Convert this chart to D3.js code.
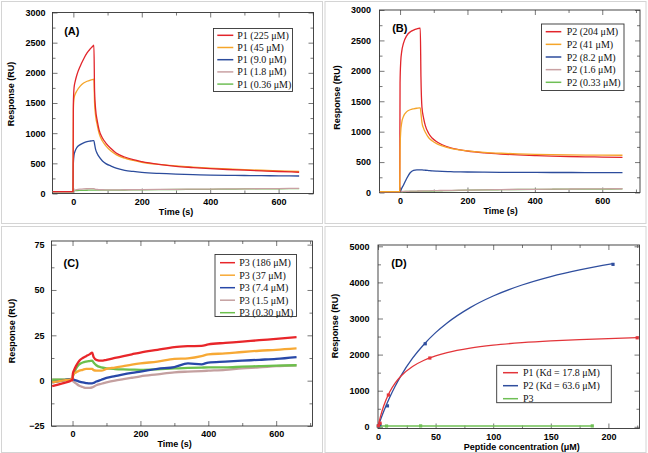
<!DOCTYPE html>
<html><head><meta charset="utf-8">
<script src="https://cdn.jsdelivr.net/npm/d3@7"></script>
<style>
html,body{margin:0;padding:0;background:#fff;}
text{font-family:"Liberation Sans",Arial,sans-serif;}
.tick text{font-family:"Liberation Sans",Arial,sans-serif;font-weight:bold;font-size:9px;fill:#000;}
.tick line{stroke:#555;stroke-width:0.8;}
.leg{font-family:"Liberation Serif","Times New Roman",serif;font-size:10px;fill:#111;}
.ttl{font-weight:bold;font-size:9px;fill:#000;}
.plab{font-weight:bold;font-size:11px;fill:#000;}
</style>
</head><body>
<svg id="c" width="648" height="453"></svg>
<script>
// ---------- DATA ----------
// Panel A (P1 sensorgrams)
const timeA = [-60,-1,0,2,5,10,20,30,40,50,58,60,62,65,70,75,85,95,110,125,150,175,200,250,300,350,400,450,500,550,600,660];
const p1_225 = [30,30,1500,1750,1850,1960,2110,2230,2330,2400,2450,2460,1700,1400,1200,1060,920,835,745,670,605,560,528,482,450,430,412,398,386,375,365,352];
const p1_45  = [30,30,1400,1580,1640,1700,1780,1830,1860,1880,1892,1895,1500,1290,1130,1000,870,790,705,645,585,548,518,482,458,438,422,408,396,385,375,365];
const p1_9   = [30,30,500,640,700,760,810,840,860,870,876,878,820,730,660,610,540,495,455,420,385,365,350,332,320,312,306,301,298,295,293,290];
const p1_1_8 = [30,30,40,48,55,63,72,77,79,80,80,80,75,70,66,64,62,61,61,61,62,63,64,67,70,72,74,76,78,80,82,85];
const p1_036 = [30,30,40,44,47,50,52,53,54,55,55,55,55,55,55,55,55,56,56,57,58,59,60,63,66,68,70,73,75,77,79,82];
const legendA = ["P1 (225 μM)","P1 (45 μM)","P1 (9.0 μM)","P1 (1.8 μM)","P1 (0.36 μM)"];

// Panel B (P2 sensorgrams)
const timeB = [-60,-1,0,2,5,10,20,30,40,50,58,60,62,65,70,75,85,95,110,125,150,175,200,250,300,350,400,450,500,550,600,660];
const p2_204 = [15,15,1800,2150,2320,2450,2580,2640,2670,2690,2700,2700,1900,1400,1220,1100,970,895,830,785,735,705,682,652,632,617,607,598,592,587,582,577];
const p2_41  = [15,15,700,1000,1150,1250,1330,1360,1375,1385,1390,1390,1300,1150,1050,990,900,850,800,765,725,700,685,660,645,635,627,622,618,615,613,612];
const p2_8_2 = [15,15,15,30,70,120,235,325,365,372,373,373,372,371,369,366,361,356,351,347,342,339,337,334,332,331,330,329,329,328,328,328];
const p2_1_6 = [15,15,15,15,16,17,19,21,23,24,25,25,25,25,26,27,28,30,32,33,36,38,40,44,48,50,53,55,57,59,60,62];
const p2_033 = [15,15,15,15,15,16,17,18,19,20,21,21,21,21,22,22,23,25,27,29,32,35,38,42,46,49,51,53,55,56,57,58];
const legendB = ["P2 (204 μM)","P2 (41 μM)","P2 (8.2 μM)","P2 (1.6 μM)","P2 (0.33 μM)"];

// Panel C (P3 sensorgrams)
const timeC = [-60,-30,0,1,5,10,20,30,40,50,58,62,70,85,100,125,150,175,200,250,300,340,380,400,450,500,550,600,660];
const p3_186 = [-3,-1.5,0.5,4,6,8,11,12.5,13.5,14.5,15.5,13,11.5,11,11.5,12.5,13.5,14.5,15.5,17,18.5,19,19.2,20,20.8,21.5,22.3,23,24];
const p3_37  = [-1,0,1,3,4,4.5,5.5,6,6.5,6.5,6.5,5.8,5.5,5.5,6.5,7.2,8,8.8,9.5,10.5,12,12.3,13.5,14.5,15,15.8,16.5,17,17.8];
const p3_7_4 = [-1,0,1,0.8,0.5,0.2,-0.5,-1,-1.3,-1.5,-1.5,-1.2,-0.5,0.5,1.5,2.5,3.5,4.3,5,6.5,7.5,9.5,9,10,10.5,11,11.5,12,13];
const p3_1_5 = [0.5,0.5,1,0,-0.8,-1.5,-2.8,-3.5,-4,-4,-3.7,-3.3,-2.5,-1.7,-1,0,0.8,1.6,2.4,3.5,4.6,5,5.3,5.5,6,6.8,7.3,8,8.5];
const p3_030 = [0.5,0.5,1,2.5,4,6.5,9,10,10.5,10.8,11,10,8.5,7.3,6.8,6.4,6.2,6.1,6,6.3,6.8,7,7.2,7.3,7.3,7.7,8,8.3,8.5];
const legendC = ["P3 (186 μM)","P3 (37 μM)","P3 (7.4 μM)","P3 (1.5 μM)","P3 (0.30 μM)"];

// Panel D (steady-state binding)
const concP1 = [0.36,1.8,9.0,45,225];
const respP1 = [30,100,880,1905,2465];
const concP2 = [0.33,1.6,8.2,41,204];
const respP2 = [20,60,580,2300,4500];
const concP3 = [0.30,1.5,7.4,37,186];
const respP3 = [20,22,22,25,25];
const fitConcP1 = [0,2,5,10,15,20,30,40,50,60,80,100,125,150,175,200,225];
const fitRespP1 = [0,269,584,958,1218,1409,1671,1843,1964,2054,2178,2261,2331,2381,2417,2445,2468];
const fitConcP2 = [0,2,5,10,15,20,30,40,50,60,80,100,125,150,175,204];
const fitRespP2 = [0,181,432,805,1131,1418,1900,2288,2609,2877,3302,3623,3928,4162,4347,4518];
const legendD = ["P1 (Kd = 17.8 μM)","P2 (Kd = 63.6 μM)","P3"];

const timeTicks = [0,200,400,600];
const colors = ["#e2252b","#f5a52a","#2c4c9c","#c9a1a3","#6fbf55"];

// ---------- DRAW ----------
const svg = d3.select("#c");
svg.append("rect").attr("width",648).attr("height",453).attr("fill","#fff");
// quadrant borders
[[1,1,321,222],[324.5,1,321,222],[1,226,321,226],[324.5,226,321,226]].forEach(r=>{
  svg.append("rect").attr("x",r[0]+0.5).attr("y",r[1]+0.5).attr("width",r[2]).attr("height",r[3])
    .attr("fill","none").attr("stroke","#d4d4d4").attr("stroke-width",1);
});

function panel(o){
  const g = svg.append("g");
  const x = d3.scaleLinear().domain(o.xd).range([o.fx0,o.fx1]);
  const y = d3.scaleLinear().domain(o.yd).range([o.fy1,o.fy0]);
  const fmt = d3.format("d");
  const rm = s=>s.select(".domain").remove();
  // minor ticks
  g.append("g").attr("transform",`translate(0,${o.fy1})`).call(d3.axisBottom(x).tickValues(o.xMinor).tickSize(-3).tickFormat("")).call(rm);
  g.append("g").attr("transform",`translate(0,${o.fy0})`).call(d3.axisTop(x).tickValues(o.xMinor).tickSize(-3).tickFormat("")).call(rm);
  g.append("g").attr("transform",`translate(${o.fx0},0)`).call(d3.axisLeft(y).tickValues(o.yMinor).tickSize(-3).tickFormat("")).call(rm);
  g.append("g").attr("transform",`translate(${o.fx1},0)`).call(d3.axisRight(y).tickValues(o.yMinor).tickSize(-3).tickFormat("")).call(rm);
  // major ticks
  g.append("g").attr("transform",`translate(0,${o.fy1})`).call(d3.axisBottom(x).tickValues(o.xMajor).tickSize(-5).tickPadding(5).tickFormat(fmt)).call(rm);
  g.append("g").attr("transform",`translate(0,${o.fy0})`).call(d3.axisTop(x).tickValues(o.xMajor).tickSize(-5).tickFormat("")).call(rm);
  g.append("g").attr("transform",`translate(${o.fx0},0)`).call(d3.axisLeft(y).tickValues(o.yMajor).tickSize(-5).tickPadding(o.ypad).tickFormat(fmt)).call(rm);
  g.append("g").attr("transform",`translate(${o.fx1},0)`).call(d3.axisRight(y).tickValues(o.yMajor).tickSize(-5).tickFormat("")).call(rm);
  // frame
  g.append("rect").attr("x",o.fx0).attr("y",o.fy0).attr("width",o.fx1-o.fx0).attr("height",o.fy1-o.fy0)
    .attr("fill","none").attr("stroke","#333").attr("stroke-width",0.9);
  // titles
  g.append("text").attr("class","ttl").attr("text-anchor","middle").attr("dominant-baseline","central")
    .attr("transform",`translate(${o.ytx},${o.yty}) rotate(-90)`).text("Response (RU)");
  g.append("text").attr("class","ttl").attr("text-anchor","middle").attr("dominant-baseline","central")
    .attr("x",o.xtx).attr("y",o.xty).text(o.xTitle);
  g.append("text").attr("class","plab").attr("text-anchor","middle").attr("dominant-baseline","central")
    .attr("x",o.lx).attr("y",o.ly).text(o.label);
  return {g,x,y};
}

function legend(g, names, cols, L){
  g.append("rect").attr("x",L.x0).attr("y",L.y0).attr("width",L.x1-L.x0).attr("height",L.y1-L.y0)
    .attr("fill","#fff").attr("stroke","#333").attr("stroke-width",0.9);
  names.forEach((n,i)=>{
    const yy = L.r0 + i*L.step;
    g.append("line").attr("x1",L.l0).attr("x2",L.l1).attr("y1",yy).attr("y2",yy).attr("stroke",cols[i]).attr("stroke-width",1.5);
    g.append("text").attr("class","leg").attr("x",L.tx).attr("y",yy).attr("dominant-baseline","central").text(n);
  });
}

function drawSeries(P, t, vals, col, w){
  const line = d3.line().x((d,i)=>P.x(t[i])).y(d=>P.y(d)).curve(d3.curveMonotoneX);
  P.g.append("path").attr("d",line(vals)).attr("fill","none").attr("stroke",col).attr("stroke-width",w).attr("stroke-linejoin","round");
}

// Panel A
const A = panel({fx0:52.5,fx1:313.5,fy0:12.5,fy1:193.5,xd:[-61,702],yd:[0,3000],
  xMajor:timeTicks,xMinor:[-0,100,300,500,700].slice(1),yMajor:d3.range(0,3001,500),yMinor:d3.range(250,3000,500),
  ypad:7,ytx:11,yty:94,xtx:176,xty:211.5,xTitle:"Time (s)",lx:71.8,ly:31,label:"(A)"});
[p1_036,p1_1_8,p1_9,p1_45,p1_225].forEach((s,k)=>drawSeries(A,timeA,s,colors[4-k],1.3));
legend(A.g,legendA,colors,{x0:213.5,x1:292.5,y0:28.5,y1:91.5,r0:35.3,step:12.2,l0:217.3,l1:233.3,tx:237.3});

// Panel B
const B = panel({fx0:379.5,fx1:640,fy0:10,fy1:192.5,xd:[-61,712],yd:[0,3000],
  xMajor:timeTicks,xMinor:[100,300,500,700],yMajor:d3.range(0,3001,500),yMinor:d3.range(250,3000,500),
  ypad:8.5,ytx:337.3,yty:97.5,xtx:500.7,xty:211,xTitle:"Time (s)",lx:399.8,ly:28.3,label:"(B)"});
[p2_033,p2_1_6,p2_8_2,p2_204,p2_41].forEach((s,k)=>{
  const ci=[4,3,2,0,1][k]; drawSeries(B,timeB,s,colors[ci],1.3);});
legend(B.g,legendB,colors,{x0:541.5,x1:624,y0:24,y1:90.5,r0:31.7,step:12.65,l0:545.7,l1:561.3,tx:566.7});

// Panel C
const colorsC = ["#e8262a","#f7a935","#2848a8","#c4a0a0","#6cc04c"];
const C = panel({fx0:51.5,fx1:312.5,fy0:241,fy1:426,xd:[-62,707],yd:[-25,77],
  xMajor:timeTicks,xMinor:[100,300,500,700],yMajor:[-25,0,25,50,75],yMinor:[-12.5,12.5,37.5,62.5],
  ypad:7,ytx:12.3,yty:331,xtx:174.7,xty:444.3,xTitle:"Time (s)",lx:71.2,ly:263.3,label:"(C)"});
[p3_1_5,p3_030,p3_7_4,p3_37,p3_186].forEach((s,k)=>{
  const ci=[3,4,2,1,0][k]; drawSeries(C,timeC,s,colorsC[ci],2.3);});
legend(C.g,legendC,colorsC,{x0:215,x1:296.5,y0:254.5,y1:316.5,r0:262.7,step:12.5,l0:220,l1:235,tx:239.3});

// Panel D
const D = panel({fx0:378,fx1:639.5,fy0:245,fy1:428.5,xd:[0,227],yd:[-47,5036],
  xMajor:[0,50,100,150,200],xMinor:[25,75,125,175,225],yMajor:d3.range(0,5001,1000),yMinor:d3.range(500,5000,1000),
  ypad:8.5,ytx:335,yty:326,xtx:521.7,xty:447,xTitle:"Peptide concentration (μM)",lx:399,ly:263.3,label:"(D)"});
const colD = ["#e3353a","#2f4e9e","#6fbf55"];
drawSeries(D,[concP3[0],concP3[concP3.length-1]],[respP3[0],respP3[respP3.length-1]],colD[2],1.5);
drawSeries(D,fitConcP2,fitRespP2,colD[1],1.3);
drawSeries(D,fitConcP1,fitRespP1,colD[0],1.3);
[[concP3,respP3,colD[2]],[concP2,respP2,colD[1]],[concP1,respP1,colD[0]]].forEach(([cx,ry,col])=>{
  D.g.selectAll(null).data(cx).enter().append("rect")
    .attr("x",(d)=>D.x(d)-1.6).attr("y",(d,i)=>D.y(ry[i])-1.6).attr("width",3.2).attr("height",3.2).attr("fill",col);
});
legend(D.g,legendD,colD,{x0:496.7,x1:611.3,y0:365.3,y1:402.7,r0:372.7,step:13,l0:503,l1:518,tx:523});
</script>
</body></html>
